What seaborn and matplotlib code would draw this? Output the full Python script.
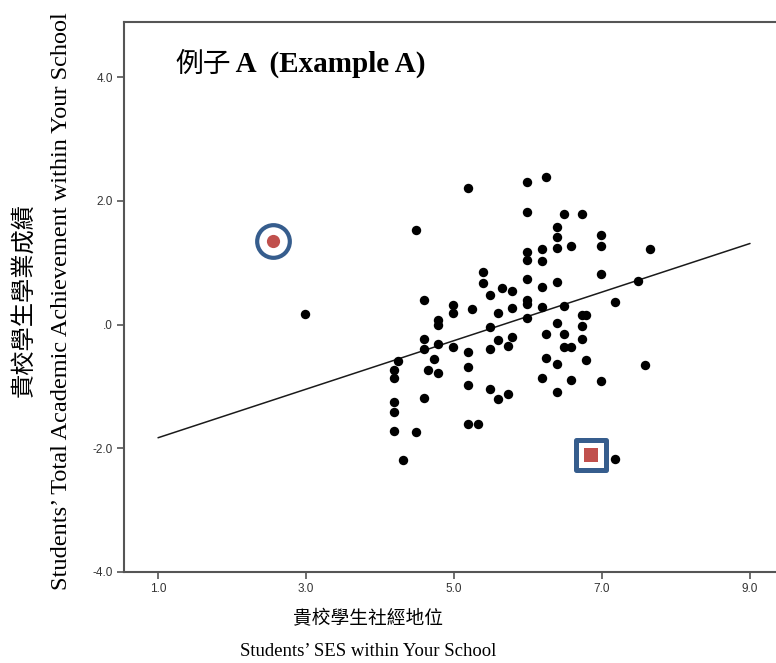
import matplotlib
matplotlib.use("Agg")
import matplotlib.pyplot as plt
import seaborn as sns
import pandas as pd

# school-level SES vs achievement
ses = [5.19, 4.49, 5.39, 5.39, 5.65, 5.79, 4.59, 5.49, 4.99, 4.99,
       5.24, 5.79, 5.59, 4.79, 4.79, 5.49, 5.98, 6.24, 5.98, 6.48,
       6.73, 6.39, 6.39, 6.39, 6.58, 6.98, 6.98, 7.65, 5.98, 5.98,
       6.19, 6.19, 5.98, 6.19, 6.39, 6.98, 7.48, 5.98, 5.98, 6.19,
       6.48, 7.18, 5.98, 6.73, 6.79, 6.39, 6.73, 4.59, 5.79, 5.59,
       4.59, 4.79, 4.99, 5.49, 5.73, 5.19, 4.24, 4.73, 4.19, 4.19,
       4.65, 4.79, 5.19, 5.19, 5.49, 5.59, 5.73, 4.59, 4.19, 4.19,
       4.19, 4.49, 5.19, 5.32, 4.31, 6.24, 6.48, 6.73, 6.48, 6.58,
       6.24, 6.39, 6.78, 7.58, 6.19, 6.58, 6.98, 6.39, 7.18, 2.99]
achievement = [2.20, 1.53, 0.85, 0.67, 0.59, 0.55, 0.39, 0.47, 0.32, 0.19,
               0.25, 0.26, 0.18, 0.08, -0.01, -0.04, 2.31, 2.38, 1.82, 1.78,
               1.78, 1.57, 1.41, 1.24, 1.27, 1.44, 1.27, 1.22, 1.17, 1.05,
               1.22, 1.03, 0.73, 0.60, 0.69, 0.82, 0.71, 0.39, 0.33, 0.29,
               0.30, 0.37, 0.11, 0.16, 0.16, 0.02, -0.03, -0.23, -0.20, -0.25,
               -0.39, -0.32, -0.36, -0.40, -0.34, -0.45, -0.59, -0.55, -0.74, -0.86,
               -0.74, -0.79, -0.68, -0.97, -1.05, -1.21, -1.13, -1.18, -1.25, -1.42,
               -1.72, -1.74, -1.60, -1.60, -2.19, -0.15, -0.15, -0.23, -0.37, -0.37,
               -0.54, -0.63, -0.58, -0.65, -0.87, -0.90, -0.92, -1.09, -2.17, 0.17]

# the two highlighted schools
circle_ses = [2.55]
circle_ach = [1.35]
square_ses = [6.85]
square_ach = [-2.11]

# fit line end points
fit_ses = [1.0, 9.0]
fit_ach = [-1.83, 1.31]

x_ticks = [1, 3, 5, 7, 9]
x_labels = ["1.0", "3.0", "5.0", "7.0", "9.0"]
y_ticks = [4, 2, 0, -2, -4]
y_labels = ["4.0", "2.0", ".0", "-2.0", "-4.0"]

df = pd.DataFrame({"ses": ses, "ach": achievement})

sns.set_style("ticks")
plt.rcParams["font.family"] = ["Liberation Sans", "DejaVu Sans"]

W, H = 776, 663
fig = plt.figure(figsize=(W / 100, H / 100), dpi=100)
ax = fig.add_axes([124 / W, 91 / H, (790 - 124) / W, 550 / H])

sns.lineplot(x=fit_ses, y=fit_ach, ax=ax, color="#1a1a1a", linewidth=1.1, zorder=2)
sns.scatterplot(data=df, x="ses", y="ach", ax=ax, color="black", s=46,
                linewidth=0, zorder=3)

# highlighted markers: blue ring + red centre
sns.scatterplot(x=circle_ses, y=circle_ach, ax=ax, marker="o", s=23.5 ** 2,
                facecolor="white", edgecolor="#365d8d", linewidth=3.0, zorder=4)
sns.scatterplot(x=circle_ses, y=circle_ach, ax=ax, marker="o", s=9.5 ** 2,
                color="#c0504d", linewidth=0, zorder=5)
sns.scatterplot(x=square_ses, y=square_ach, ax=ax, marker="s", s=21.5 ** 2,
                facecolor="white", edgecolor="#365d8d", linewidth=3.6, zorder=4)
sns.scatterplot(x=square_ses, y=square_ach, ax=ax, marker="s", s=10 ** 2,
                color="#c0504d", linewidth=0, zorder=5)

ax.set_xlim(0.54, 1 + (790 - 158) / 74)
ax.set_ylim(-4.0, 4.89)
ax.set_xticks(x_ticks)
ax.set_xticklabels(x_labels)
ax.set_yticks(y_ticks)
ax.set_yticklabels(y_labels)
ax.set_xlabel("")
ax.set_ylabel("")

for sp in ax.spines.values():
    sp.set_color("#555555")
    sp.set_linewidth(1.5)
ax.tick_params(direction="out", length=5, width=1.2, color="#555555",
               labelsize=8.5, labelcolor="#333333", pad=3)

# title inside the plot
t1 = fig.text(175 / W, 1 - 64 / H, "例子", fontsize=20,
              family=["Noto Sans CJK TC"], va="center", ha="left", color="black")
fig.canvas.draw()
bb = t1.get_window_extent()
fig.text(bb.x1 / W, 1 - 64 / H, " A  (Example A)", fontsize=21,
         family=["Liberation Serif"], weight="bold", va="center", ha="left",
         color="black")

# axis labels
fig.text(23 / W, 1 - 300 / H, "貴校學生學業成績", rotation=90, fontsize=17.5,
         family=["Noto Sans CJK TC"], va="center", ha="center", color="black")
fig.text(62 / W, 1 - 301 / H, "Students\u2019 Total Academic Achievement within Your School",
         rotation=90, fontsize=17.5, family=["Liberation Serif"],
         va="center", ha="center", color="black")
fig.text(368 / W, 1 - 619 / H, "貴校學生社經地位", fontsize=13.5,
         family=["Noto Sans CJK TC"], va="center", ha="center", color="black")
fig.text(368 / W, 1 - 652 / H, "Students\u2019 SES within Your School", fontsize=13.5,
         family=["Liberation Serif"], va="center", ha="center", color="black")

fig.savefig("out.png", dpi=100)
